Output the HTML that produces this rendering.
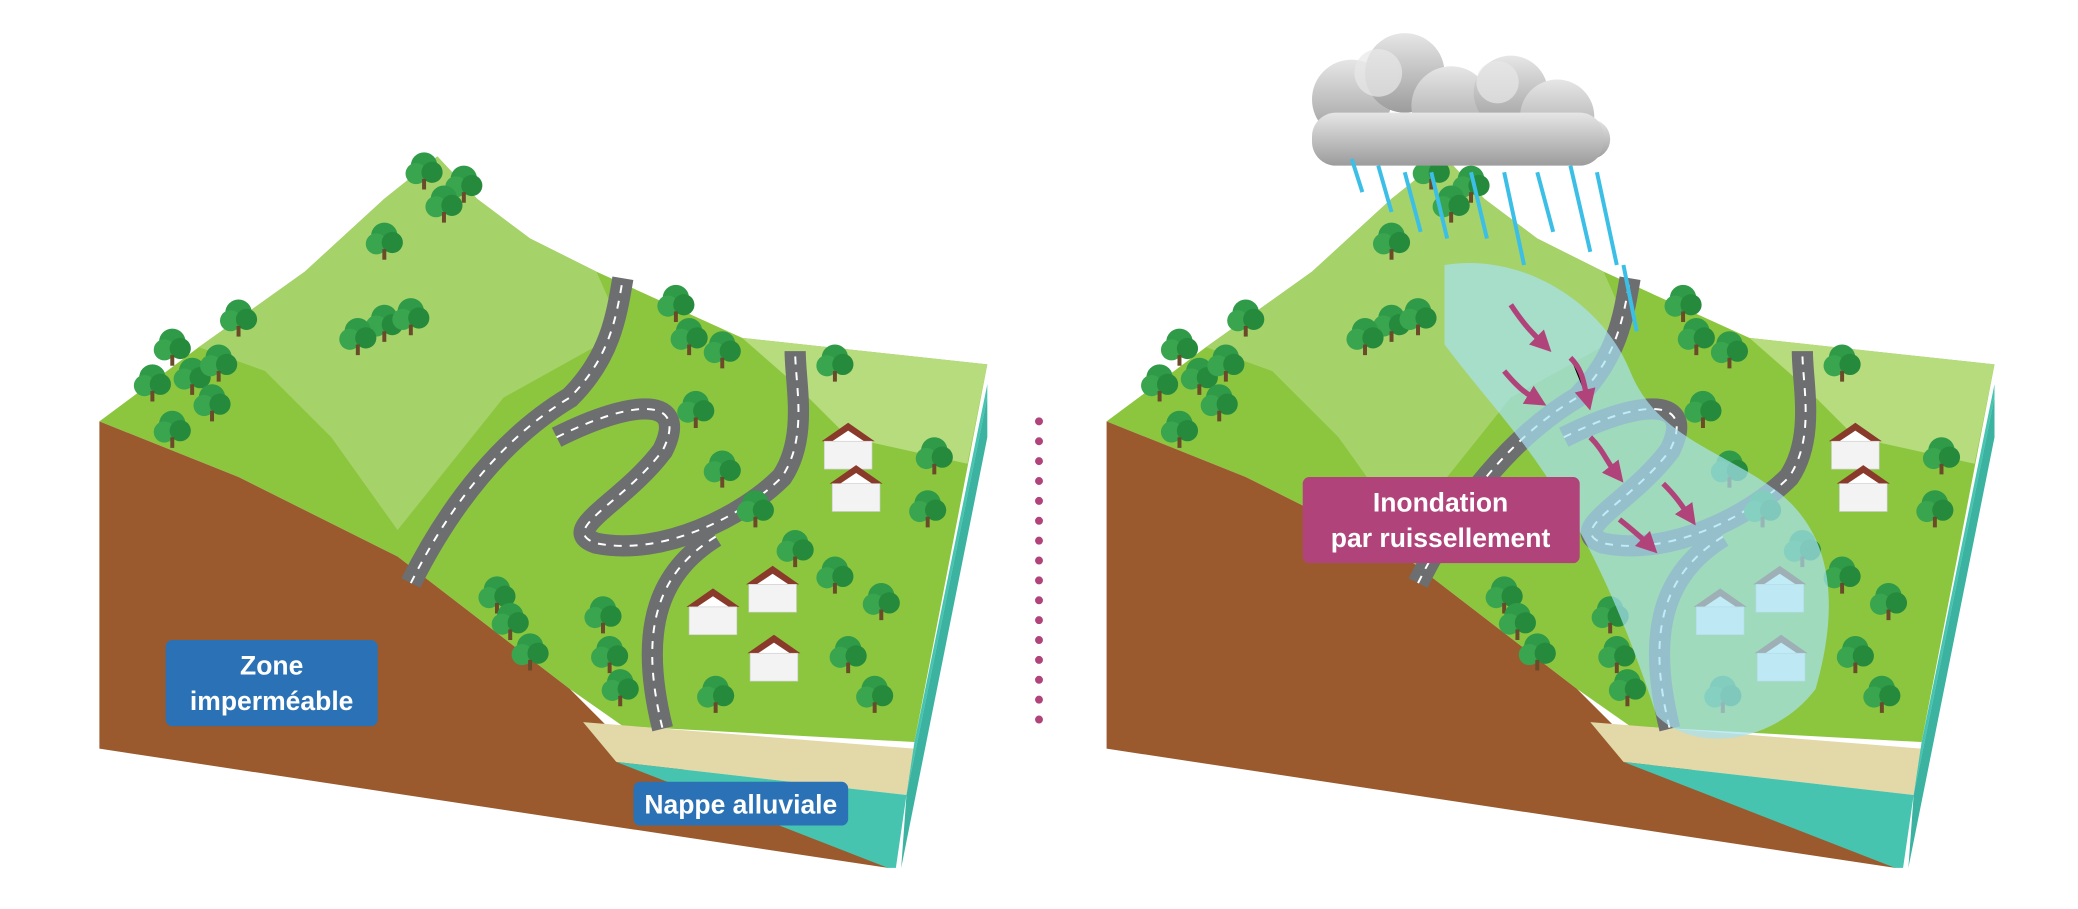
<!DOCTYPE html>
<html><head><meta charset="utf-8"><style>
html,body{margin:0;padding:0;background:#fff;}
svg{display:block}
text{font-family:"Liberation Sans",sans-serif;font-weight:bold;fill:#fff}
</style></head><body>
<svg width="2078" height="909" viewBox="0 0 1568 686" preserveAspectRatio="none" xmlns="http://www.w3.org/2000/svg">
<defs>
<marker id="ah" markerWidth="4" markerHeight="4" refX="2" refY="2" orient="auto"><path d="M0,0 L4,2 L0,4 Z" fill="#b0447a"/></marker>
<linearGradient id="cg" x1="0" y1="0" x2="0" y2="1"><stop offset="0" stop-color="#e6e6e6"/><stop offset="1" stop-color="#9c9c9c"/></linearGradient>
<g id="tree"><circle cx="0" cy="0" r="10" fill="#2f9a47"/><circle cx="-6" cy="6" r="8" fill="#3aa54f"/><circle cx="6" cy="5" r="8" fill="#268a3c"/><rect x="-1.5" y="10" width="3" height="8" fill="#6b4a2a"/></g>
<g id="house"><polygon points="0,12 18,0 36,12 36,34 0,34" fill="#fff"/><polygon points="-2,13 18,-1 38,13 30,13 18,5 6,13" fill="#8a3a2a"/><rect x="0" y="13" width="36" height="21" fill="#f3f3f3" stroke="#ccc" stroke-width="0.5"/></g>
<g id="block">
  <polygon points="75,318 110,292 150,262 230,205 290,150 330,118 360,150 400,180 450,205 560,255 745,275 690,560 470,548 430,520 300,420 180,360" fill="#8cc63f"/>
  <polygon points="150,262 230,205 290,150 330,118 360,150 400,180 450,205 470,250 380,300 300,400 250,330 200,280" fill="#a6d26a"/>
  <polygon points="560,255 745,275 730,350 640,330 600,290" fill="#b6dc7d"/>
  <polygon points="75,318 180,360 300,420 430,520 470,560 670,650 670,655 75,565" fill="#9a5a2e"/>
  <polygon points="440,545 690,565 684,600 465,575" fill="#e3d8a8"/>
  <polygon points="465,575 684,600 745,300 745,290 690,560 684,600 676,655 670,655" fill="#46c4b0"/>
  <polygon points="684,600 745,300 745,330 680,655" fill="#3bb3a0"/>
  <path d="M310,440 C340,380 380,330 430,300 C460,270 465,240 470,210" stroke="#6d6e70" stroke-width="16" fill="none"/>
  <path d="M310,440 C340,380 380,330 430,300 C460,270 465,240 470,210" stroke="#fff" stroke-width="1.5" stroke-dasharray="6 6" fill="none"/>
  <path d="M420,330 C480,300 520,300 500,340 C470,380 420,400 450,410 C500,420 560,390 590,360 C610,330 600,290 600,265" stroke="#6d6e70" stroke-width="16" fill="none"/>
  <path d="M420,330 C480,300 520,300 500,340 C470,380 420,400 450,410 C500,420 560,390 590,360 C610,330 600,290 600,265" stroke="#fff" stroke-width="1.5" stroke-dasharray="6 6" fill="none"/>
  <path d="M540,405 C500,430 480,470 500,550" stroke="#6d6e70" stroke-width="16" fill="none"/>
  <path d="M540,405 C500,430 480,470 500,550" stroke="#fff" stroke-width="1.5" stroke-dasharray="6 6" fill="none"/>
  <use href="#tree" x="320" y="125"/><use href="#tree" x="350" y="135"/><use href="#tree" x="335" y="150"/>
  <use href="#tree" x="290" y="178"/><use href="#tree" x="180" y="236"/><use href="#tree" x="130" y="258"/>
  <use href="#tree" x="115" y="285"/><use href="#tree" x="145" y="280"/><use href="#tree" x="165" y="270"/><use href="#tree" x="160" y="300"/><use href="#tree" x="130" y="320"/>
  <use href="#tree" x="290" y="240"/><use href="#tree" x="310" y="235"/><use href="#tree" x="270" y="250"/>
  <use href="#tree" x="510" y="225"/><use href="#tree" x="520" y="250"/><use href="#tree" x="545" y="260"/><use href="#tree" x="525" y="305"/>
  <use href="#tree" x="630" y="270"/><use href="#tree" x="705" y="340"/><use href="#tree" x="700" y="380"/>
  <use href="#tree" x="545" y="350"/><use href="#tree" x="570" y="380"/><use href="#tree" x="600" y="410"/><use href="#tree" x="630" y="430"/><use href="#tree" x="665" y="450"/>
  <use href="#tree" x="375" y="445"/><use href="#tree" x="385" y="465"/><use href="#tree" x="400" y="488"/>
  <use href="#tree" x="455" y="460"/><use href="#tree" x="460" y="490"/><use href="#tree" x="468" y="515"/>
  <use href="#tree" x="640" y="490"/><use href="#tree" x="660" y="520"/><use href="#tree" x="540" y="520"/>
  <use href="#house" x="622" y="320"/><use href="#house" x="628" y="352"/><use href="#house" x="565" y="428"/><use href="#house" x="520" y="445"/><use href="#house" x="566" y="480"/>
</g>
</defs>
<use href="#block"/>
<use href="#block" x="760"/>
<rect x="125" y="483" width="160" height="65" rx="5" fill="#2a72b5"/>
<text x="205" y="509" font-size="20" text-anchor="middle">Zone</text>
<text x="205" y="536" font-size="20" text-anchor="middle">imperméable</text>
<rect x="478" y="590" width="162" height="33" rx="5" fill="#2a72b5"/>
<text x="559" y="614" font-size="20" text-anchor="middle">Nappe alluviale</text>
<line x1="784" y1="318" x2="784" y2="558" stroke="#b0447a" stroke-width="6" stroke-linecap="round" stroke-dasharray="0 15"/>
<path d="M1090,200 C1150,190 1210,230 1230,280 C1250,330 1300,340 1340,370 C1380,400 1390,450 1370,520 C1340,560 1280,570 1250,540 C1230,480 1210,430 1180,380 C1150,330 1120,300 1090,260 Z" fill="#a6e3f2" opacity="0.7"/>
<g stroke="#b0447a" stroke-width="4" marker-end="url(#ah)">
<path d="M1140,230 C1150,245 1155,250 1165,260"/><path d="M1185,270 C1195,280 1195,290 1198,302"/><path d="M1135,280 C1145,292 1150,296 1160,302"/>
<path d="M1200,330 C1210,340 1212,348 1220,358"/><path d="M1255,365 C1265,375 1268,380 1275,390"/><path d="M1222,392 C1232,400 1238,405 1245,412"/>
</g>
<g fill="url(#cg)">
<circle cx="1020" cy="75" r="30"/><circle cx="1060" cy="55" r="30"/><circle cx="1095" cy="80" r="30"/><circle cx="1140" cy="70" r="28"/><circle cx="1175" cy="88" r="28"/><circle cx="1200" cy="105" r="15"/>
<rect x="990" y="85" width="220" height="40" rx="18"/>
</g>
<g fill="#e8e8e8" opacity="0.7"><circle cx="1040" cy="55" r="18"/><circle cx="1130" cy="62" r="16"/></g>
<g stroke="#3bbfe6" stroke-width="3">
<line x1="1020" y1="120" x2="1028" y2="145"/><line x1="1040" y1="125" x2="1050" y2="160"/><line x1="1060" y1="130" x2="1072" y2="175"/><line x1="1080" y1="130" x2="1092" y2="180"/><line x1="1110" y1="130" x2="1122" y2="180"/><line x1="1135" y1="130" x2="1150" y2="200"/><line x1="1160" y1="130" x2="1172" y2="175"/><line x1="1185" y1="125" x2="1200" y2="190"/><line x1="1205" y1="130" x2="1220" y2="200"/><line x1="1225" y1="200" x2="1235" y2="250"/>
</g>
<rect x="983" y="360" width="209" height="65" rx="5" fill="#b0447a"/>
<text x="1087" y="386" font-size="20" text-anchor="middle">Inondation</text>
<text x="1087" y="413" font-size="20" text-anchor="middle">par ruissellement</text>
</svg>
</body></html>
